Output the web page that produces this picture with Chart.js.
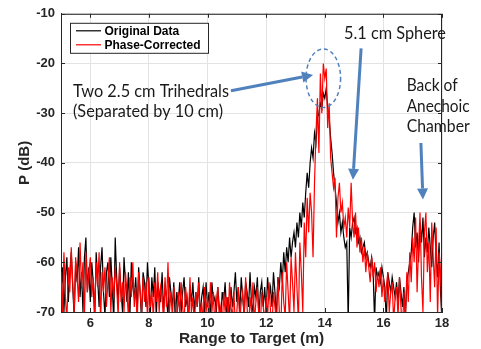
<!DOCTYPE html>
<html><head><meta charset="utf-8">
<script src="https://cdn.jsdelivr.net/npm/chart.js@4/dist/chart.umd.min.js"></script>
<style>html,body{margin:0;padding:0;background:#fff;}#wrap{width:481px;height:349px;}</style>
</head><body><div id="wrap"><canvas id="c" width="481" height="349"></canvas></div>
<script>
// Range samples: start and step of the range grid (m)
const rangeStart = 5;
const rangeStep = 0.05;

// Original Data (dB), one value per range sample from 5.00 m to 18.00 m
const originalData = [
 -66,-61,-70,-63,-59,-68,-62,-58,-65,-71,-60,-64,-57,-67,-62,-70,-59,-55,-66,-61,
 -68,-60,-64,-72,-58,-63,-69,-61,-57,-66,-71,-62,-60,-67,-59,-65,-72,-55,-63,-68,
 -61,-66,-70,-59,-64,-68,-62,-71,-60,-65,-67,-63,-70,-61,-66,-72,-62,-64,-69,-60,
 -65,-70,-63,-67,-61,-71,-64,-66,-68,-62,-70,-65,-67,-71,-63,-66,-69,-64,-72,-66,
 -68,-64,-70,-66,-63,-69,-67,-72,-65,-68,-64,-70,-66,-69,-63,-71,-67,-65,-70,-64,
 -69,-66,-71,-64,-68,-67,-70,-65,-69,-72,-66,-68,-64,-70,-67,-71,-65,-69,-66,-62,
 -68,-65,-70,-63,-67,-71,-64,-66,-69,-62,-68,-70,-65,-67,-63,-71,-66,-64,-69,-65,
 -70,-63,-67,-65,-69,-62,-66,-71,-63,-65,-60,-64,-58,-62,-57,-60,-55,-59,-56,-54,
 -57,-52,-55,-50,-53,-48,-51,-46,-42,-45,-40,-37,-39,-34,-36,-31,-30,-28,-29,-26,
 -27,-25,-29,-31,-35,-38,-42,-45,-48,-52,-50,-54,-52,-55,-57,-56,-72,-53,-55,-52,
 -51,-54,-53,-56,-55,-58,-57,-56,-59,-58,-60,-61,-59,-62,-72,-61,-63,-62,-64,-61,
 -63,-65,-72,-62,-64,-66,-63,-65,-67,-64,-68,-63,-66,-69,-65,-71,-64,-62,-60,-58,
 -53,-50,-57,-54,-60,-52,-56,-51,-59,-55,-58,-53,-57,-61,-55,-52,-59,-63,-56,-66,
 -72
];

// Phase-Corrected (dB), same range samples
const phaseCorrected = [
 -62,-70,-58,-67,-72,-61,-66,-57,-64,-70,-59,-63,-68,-56,-65,-60,-71,-58,-66,-62,
 -59,-67,-63,-70,-60,-65,-58,-72,-62,-66,-61,-69,-64,-59,-70,-63,-67,-61,-65,-71,
 -60,-68,-64,-70,-62,-66,-71,-63,-67,-60,-69,-65,-72,-62,-66,-70,-63,-68,-64,-71,
 -63,-69,-66,-71,-64,-68,-62,-70,-65,-67,-72,-63,-69,-60,-70,-66,-71,-65,-68,-73,
 -66,-70,-64,-69,-72,-65,-68,-71,-63,-70,-67,-73,-66,-69,-64,-71,-68,-72,-65,-70,
 -67,-72,-64,-70,-66,-73,-68,-65,-71,-69,-74,-66,-70,-67,-72,-64,-69,-71,-66,-73,
 -70,-65,-72,-68,-66,-71,-63,-69,-74,-67,-70,-64,-72,-68,-65,-71,-73,-66,-69,-72,
 -67,-71,-64,-70,-73,-66,-69,-72,-63,-70,-74,-62,-68,-71,-60,-66,-72,-59,-64,-70,
 -58,-65,-72,-56,-62,-70,-52,-59,-47,-54,-46,-50,-59,-44,-34,-27,-38,-22,-30,-20,
 -23,-21,-33,-28,-39,-42,-45,-43,-55,-47,-44,-50,-48,-53,-51,-55,-49,-53,-44,-52,
 -55,-50,-57,-53,-58,-55,-60,-57,-62,-58,-61,-64,-59,-63,-60,-66,-62,-65,-61,-67,
 -63,-68,-65,-62,-70,-66,-64,-72,-67,-65,-71,-63,-69,-74,-66,-72,-62,-68,-58,-64,
 -55,-60,-51,-66,-57,-50,-63,-70,-54,-50,-62,-56,-68,-52,-59,-65,-53,-71,-58,-62,
 -72
];

const seriesNames = ['Original Data', 'Phase-Corrected'];
const xTicks = [6, 8, 10, 12, 14, 16, 18];
const yTicks = [-70, -60, -50, -40, -30, -20, -10];
const xTitle = 'Range to Target (m)';
const yTitle = 'P (dB)';

// Annotations (in data units)
const noteTexts = [
  {text: 'Two 2.5 cm Trihedrals', x: 5.41, y: -26.7, w: 156},
  {text: '(Separated by 10 cm)', x: 5.41, y: -30.75, w: 150},
  {text: '5.1 cm Sphere', x: 14.655, y: -15.1, w: 102},
  {text: 'Back of', x: 16.795, y: -25.45, w: 51},
  {text: 'Anechoic', x: 16.795, y: -29.85, w: 63},
  {text: 'Chamber', x: 16.795, y: -33.7, w: 63}
];
const noteArrows = [
  {x0: 10.80, y0: -25.5, x1: 13.60, y1: -22.3},
  {x0: 15.24, y0: -16.95, x1: 14.96, y1: -43.4},
  {x0: 17.28, y0: -36.0, x1: 17.35, y1: -47.35}
];
const noteEllipse = {x: 13.95, y: -22.97, rx: 0.59, ry: 5.9};

const toPoints = arr => arr.map((v, i) => ({x: rangeStart + i * rangeStep, y: v}));

const axisColor = '#262626';
const annoColor = '#4f81bd';

const decor = {
  id: 'decor',
  afterDraw(chart) {
    const ctx = chart.ctx, a = chart.chartArea;
    const xs = chart.scales.x, ys = chart.scales.y;
    ctx.save();
    // box and inward ticks
    ctx.strokeStyle = axisColor; ctx.lineWidth = 1;
    ctx.beginPath();
    ctx.moveTo(a.left + 0.5, a.top + 0.5); ctx.lineTo(a.right - 0.5, a.top + 0.5);
    ctx.lineTo(a.right - 0.5, a.bottom - 0.5);
    ctx.stroke();
    const tl = 4;
    ctx.beginPath();
    xTicks.forEach(v => {
      const px = Math.round(xs.getPixelForValue(v)) + 0.5;
      ctx.moveTo(px, a.bottom); ctx.lineTo(px, a.bottom - tl);
      ctx.moveTo(px, a.top); ctx.lineTo(px, a.top + tl);
    });
    yTicks.forEach(v => {
      const py = Math.round(ys.getPixelForValue(v)) + 0.5;
      ctx.moveTo(a.left, py); ctx.lineTo(a.left + tl, py);
      ctx.moveTo(a.right, py); ctx.lineTo(a.right - tl, py);
    });
    ctx.stroke();

    // legend
    const lx = a.left + 9, ly = a.top + 9, lw = 139, lh = 31;
    ctx.fillStyle = '#fff';
    ctx.fillRect(lx, ly, lw, lh);
    ctx.strokeStyle = axisColor; ctx.lineWidth = 1;
    ctx.strokeRect(lx + 0.5, ly + 0.5, lw - 1, lh - 1);
    const cols = ['#000000', '#ff0000'];
    ctx.font = 'bold 12px "Liberation Sans", Arial, sans-serif';
    ctx.textBaseline = 'middle'; ctx.textAlign = 'left';
    seriesNames.forEach((n, i) => {
      const yy = ly + 8 + i * 14;
      ctx.strokeStyle = cols[i]; ctx.lineWidth = 1.2;
      ctx.beginPath(); ctx.moveTo(lx + 6, yy); ctx.lineTo(lx + 31, yy); ctx.stroke();
      ctx.fillStyle = '#000';
      ctx.fillText(n, lx + 34.5, yy + 0.5);
    });

    // annotations
    const X = v => xs.getPixelForValue(v), Y = v => ys.getPixelForValue(v);
    ctx.fillStyle = '#1a1a1a';
    ctx.textBaseline = 'alphabetic';
    ctx.font = '16.5px Lato, sans-serif';
    noteTexts.forEach(t => {
      const m = ctx.measureText(t.text).width;
      ctx.save();
      ctx.translate(X(t.x), Y(t.y));
      ctx.scale(t.w / m, 1);
      ctx.fillText(t.text, 0, 0);
      ctx.restore();
    });
    ctx.strokeStyle = annoColor; ctx.fillStyle = annoColor;
    noteArrows.forEach(r => {
      const x0 = X(r.x0), y0 = Y(r.y0), x1 = X(r.x1), y1 = Y(r.y1);
      const ang = Math.atan2(y1 - y0, x1 - x0);
      const hl = 11, hw = 5.5;
      const bx = x1 - hl * Math.cos(ang), by = y1 - hl * Math.sin(ang);
      ctx.lineWidth = 3;
      ctx.beginPath(); ctx.moveTo(x0, y0); ctx.lineTo(bx, by); ctx.stroke();
      ctx.beginPath();
      ctx.moveTo(x1, y1);
      ctx.lineTo(bx + hw * Math.sin(ang), by - hw * Math.cos(ang));
      ctx.lineTo(bx - hw * Math.sin(ang), by + hw * Math.cos(ang));
      ctx.closePath(); ctx.fill();
    });
    const ecx = X(noteEllipse.x), ecy = Y(noteEllipse.y);
    const erx = Math.abs(X(noteEllipse.x + noteEllipse.rx) - ecx);
    const ery = Math.abs(Y(noteEllipse.y + noteEllipse.ry) - ecy);
    ctx.lineWidth = 1.5; ctx.setLineDash([4, 3]);
    ctx.beginPath(); ctx.ellipse(ecx, ecy, erx, ery, 0, 0, Math.PI * 2); ctx.stroke();
    ctx.restore();
  }
};

new Chart(document.getElementById('c'), {
  type: 'line',
  data: {
    datasets: [
      {label: seriesNames[1], data: toPoints(phaseCorrected), borderColor: '#ff0000', borderWidth: 1.2, order: 0},
      {label: seriesNames[0], data: toPoints(originalData), borderColor: '#000000', borderWidth: 1.2, order: 1}
    ]
  },
  options: {
    responsive: false, animation: false,
    parsing: false, normalized: true,
    elements: {point: {radius: 0}, line: {tension: 0, fill: false}},
    layout: {padding: {top: 10, right: 39, left: 0, bottom: 0}},
    plugins: {legend: {display: false}, tooltip: {enabled: false}},
    scales: {
      x: {
        type: 'linear', min: 5, max: 18,
        afterBuildTicks: s => { s.ticks = xTicks.map(v => ({value: v})); },
        afterFit: s => { s.height = 37; },
        grid: {color: '#e3e3e3', drawTicks: false},
        border: {color: axisColor, width: 1},
        ticks: {padding: 4, color: axisColor, font: {family: '"Liberation Sans", Arial, sans-serif', size: 13, weight: 'bold'}, maxRotation: 0},
        title: {display: true, text: xTitle, color: axisColor, padding: {top: 0, bottom: 1}, font: {family: '"Liberation Sans", Arial, sans-serif', size: 15.5, weight: 'bold'}}
      },
      y: {
        type: 'linear', min: -70, max: -10,
        afterBuildTicks: s => { s.ticks = yTicks.map(v => ({value: v})); },
        afterFit: s => { s.width = 61; },
        grid: {color: '#e3e3e3', drawTicks: false},
        border: {color: axisColor, width: 1},
        ticks: {padding: 6, color: axisColor, font: {family: '"Liberation Sans", Arial, sans-serif', size: 13, weight: 'bold'}},
        title: {display: true, text: yTitle, color: axisColor, padding: {top: 16, bottom: 0}, font: {family: '"Liberation Sans", Arial, sans-serif', size: 15, weight: 'bold'}}
      }
    }
  },
  plugins: [decor]
});
</script>
</body></html>
